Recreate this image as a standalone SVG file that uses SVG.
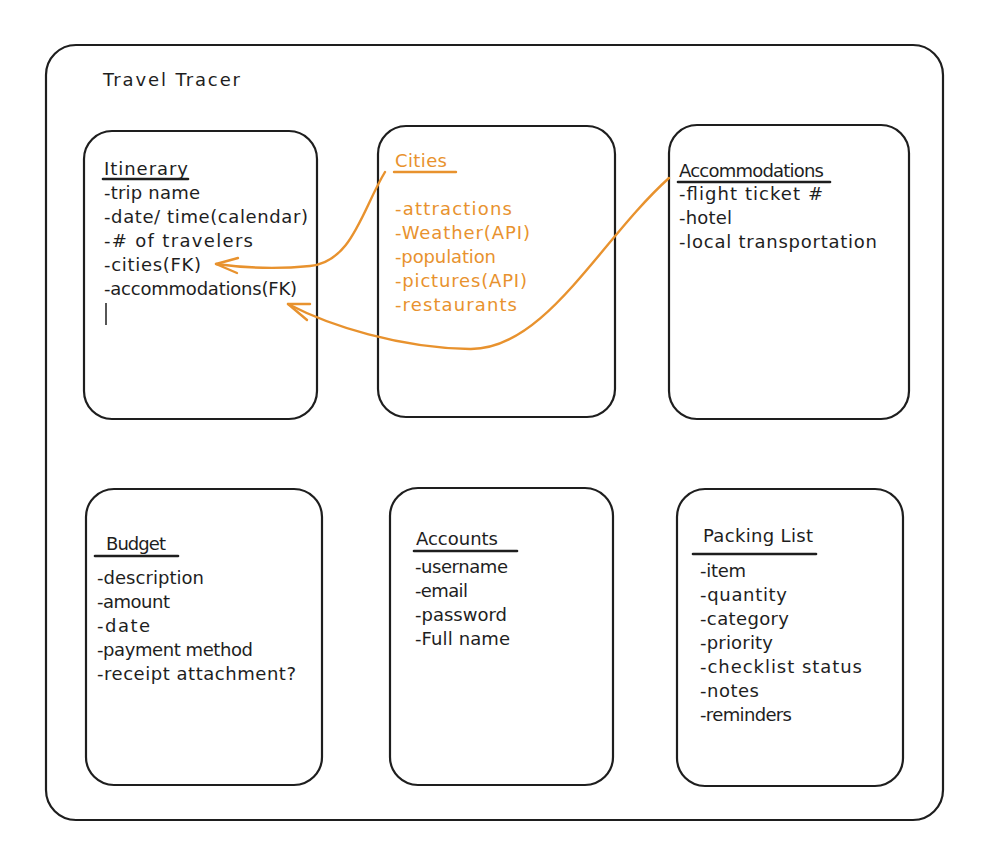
<svg xmlns="http://www.w3.org/2000/svg" width="1006" height="862" viewBox="0 0 1006 862">
<style>
.box{fill:none;stroke:#1e1e1e;stroke-width:2.2}
.t{font-family:"DejaVu Sans","Liberation Sans",sans-serif;font-size:18px;fill:#1e1e1e}
.o{fill:#e8922e}
.ul{stroke:#1e1e1e;stroke-width:2.6;stroke-linecap:round}
.ulo{stroke:#e8922e;stroke-width:2.4;stroke-linecap:round}
.arr{fill:none;stroke:#e8922e;stroke-width:2.4;stroke-linecap:round;stroke-linejoin:round}
</style>
<rect width="1006" height="862" fill="#ffffff"/>
<g id="frame">
<rect class="box" x="46" y="45" width="897" height="775" rx="30"/>
<text class="t" x="103" y="86" textLength="137">Travel Tracer</text>
</g>
<g id="itinerary">
<rect class="box" x="84" y="131" width="233" height="288" rx="28"/>
<text class="t" x="104" y="175" textLength="84">Itinerary</text>
<line class="ul" x1="103" y1="179" x2="188" y2="179"/>
<text class="t" x="104" y="199" textLength="96">-trip name</text>
<text class="t" x="104" y="223" textLength="204">-date/ time(calendar)</text>
<text class="t" x="104" y="247" textLength="149">-# of travelers</text>
<text class="t" x="104" y="271" textLength="97">-cities(FK)</text>
<text class="t" x="104" y="295" textLength="193">-accommodations(FK)</text>
<line x1="106" y1="303" x2="106" y2="325" stroke="#1e1e1e" stroke-width="1.5"/>
</g>
<g id="cities">
<rect class="box" x="378" y="126" width="237" height="291" rx="28"/>
<text class="t o" x="395" y="167" textLength="52">Cities</text>
<line class="ulo" x1="394" y1="172" x2="456" y2="172"/>
<text class="t o" x="395" y="215" textLength="117">-attractions</text>
<text class="t o" x="395" y="239" textLength="135">-Weather(API)</text>
<text class="t o" x="395" y="263" textLength="101">-population</text>
<text class="t o" x="395" y="287" textLength="132">-pictures(API)</text>
<text class="t o" x="395" y="311" textLength="122">-restaurants</text>
</g>
<g id="accommodations">
<rect class="box" x="669" y="125" width="240" height="294" rx="28"/>
<text class="t" x="679" y="177" textLength="145">Accommodations</text>
<line class="ul" x1="678" y1="182" x2="830" y2="182"/>
<text class="t" x="679" y="200" textLength="144">-flight ticket #</text>
<text class="t" x="679" y="224" textLength="53">-hotel</text>
<text class="t" x="679" y="248" textLength="198">-local transportation</text>
</g>
<g id="budget">
<rect class="box" x="86" y="489" width="236" height="296" rx="28"/>
<text class="t" x="106" y="550" textLength="60">Budget</text>
<line class="ul" x1="95" y1="556" x2="178" y2="556"/>
<text class="t" x="97" y="584" textLength="107">-description</text>
<text class="t" x="97" y="608" textLength="73">-amount</text>
<text class="t" x="97" y="632" textLength="53">-date</text>
<text class="t" x="97" y="656" textLength="156">-payment method</text>
<text class="t" x="97" y="680" textLength="199">-receipt attachment?</text>
</g>
<g id="accounts">
<rect class="box" x="390" y="488" width="223" height="297" rx="28"/>
<text class="t" x="416" y="545" textLength="82">Accounts</text>
<line class="ul" x1="414" y1="551" x2="517" y2="551"/>
<text class="t" x="415" y="573" textLength="93">-username</text>
<text class="t" x="415" y="597" textLength="53">-email</text>
<text class="t" x="415" y="621" textLength="92">-password</text>
<text class="t" x="415" y="645" textLength="95">-Full name</text>
</g>
<g id="packing-list">
<rect class="box" x="677" y="489" width="226" height="297" rx="28"/>
<text class="t" x="703" y="542" textLength="110">Packing List</text>
<line class="ul" x1="693" y1="554" x2="816" y2="554"/>
<text class="t" x="700" y="577" textLength="46">-item</text>
<text class="t" x="700" y="601" textLength="87">-quantity</text>
<text class="t" x="700" y="625" textLength="89">-category</text>
<text class="t" x="700" y="649" textLength="73">-priority</text>
<text class="t" x="700" y="673" textLength="162">-checklist status</text>
<text class="t" x="700" y="697" textLength="59">-notes</text>
<text class="t" x="700" y="721" textLength="92">-reminders</text>
</g>
<g id="connectors">
<path class="arr" d="M 385 172 C 362 210, 352 262, 310 266 C 280 269, 245 268, 216 264"/>
<path class="arr" d="M 238 258 L 216 264 L 237 273"/>
<path class="arr" d="M 669 178 C 600 240, 545 350, 470 349 C 400 348, 330 326, 288 304"/>
<path class="arr" d="M 310 304 L 288 304 L 307 320"/>
</g>
</svg>
